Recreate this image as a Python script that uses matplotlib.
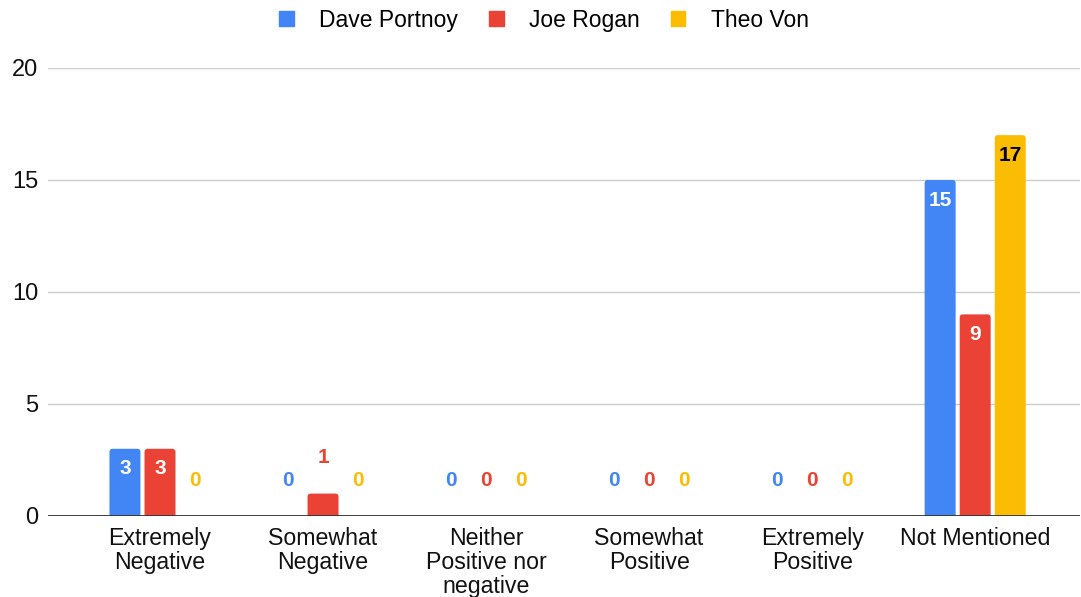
import numpy as np
import matplotlib.pyplot as plt
from matplotlib.patches import Patch, FancyBboxPatch

plt.rcParams['font.family'] = ['Liberation Sans', 'DejaVu Sans']

categories = ['Extremely\nNegative', 'Somewhat\nNegative', 'Neither\nPositive nor\nnegative',
              'Somewhat\nPositive', 'Extremely\nPositive', 'Not Mentioned']
series = ['Dave Portnoy', 'Joe Rogan', 'Theo Von']
dave = [3, 0, 0, 0, 0, 15]
joe = [3, 1, 0, 0, 0, 9]
theo = [0, 0, 0, 0, 0, 17]
colors = ['#4285F4', '#EA4335', '#FBBC04']
label_colors = ['white', 'white', 'black']

fig = plt.figure(figsize=(10.81, 5.97), dpi=100)
ax = fig.add_axes([0.0444, 0.1357, 0.955, 0.7505])

x = np.arange(len(categories))
width = 0.19
step = 0.215
ax.set_xlim(-0.687, 5.645)
ax.set_ylim(0, 20)

for i, (name, vals) in enumerate(zip(series, [dave, joe, theo])):
    xs = x + (i - 1) * step
    bars = ax.bar(xs, vals, width=width, color=colors[i], zorder=3, label=name)
    # swap plain rectangles for ones with softly rounded tops
    for b in bars:
        h = b.get_height()
        if h > 0:
            rb = FancyBboxPatch((b.get_x(), -0.5), b.get_width(), h + 0.5,
                                boxstyle='round,pad=0,rounding_size=0.02',
                                mutation_aspect=7.3, facecolor=colors[i],
                                edgecolor='none', zorder=3, clip_on=True)
            ax.add_patch(rb)
        b.set_visible(False)
    for xi, v in zip(xs, vals):
        if v >= 3:
            ax.text(xi, v - 0.9, str(v), ha='center', va='center', fontsize=15,
                    fontweight='bold', color=label_colors[i], zorder=4)
        else:
            ax.text(xi, v + 1.6, str(v), ha='center', va='center', fontsize=15,
                    fontweight='bold', color=colors[i], zorder=4)

ax.set_yticks([0, 5, 10, 15, 20])
ax.set_xticks(x)
ax.set_xticklabels(categories, fontsize=16.7, color='#111111', linespacing=1.05)
ax.tick_params(axis='x', length=0, pad=8)
ax.tick_params(axis='y', length=0, pad=7, labelsize=17, labelcolor='#111111')
ax.grid(axis='y', color='#cccccc', linewidth=1, zorder=0)
ax.axhline(0, color='#333333', linewidth=1.3, zorder=5)
for s in ax.spines.values():
    s.set_visible(False)

handles = [Patch(facecolor=c, edgecolor=c, label=n) for c, n in zip(colors, series)]
fig.legend(handles=handles, loc='upper center', bbox_to_anchor=(0.503, 1.02), ncol=3,
           frameon=False, fontsize=16.5, handlelength=0.65, handleheight=0.65,
           handletextpad=1.1, columnspacing=1.35)

fig.savefig('out.png', dpi=100)
